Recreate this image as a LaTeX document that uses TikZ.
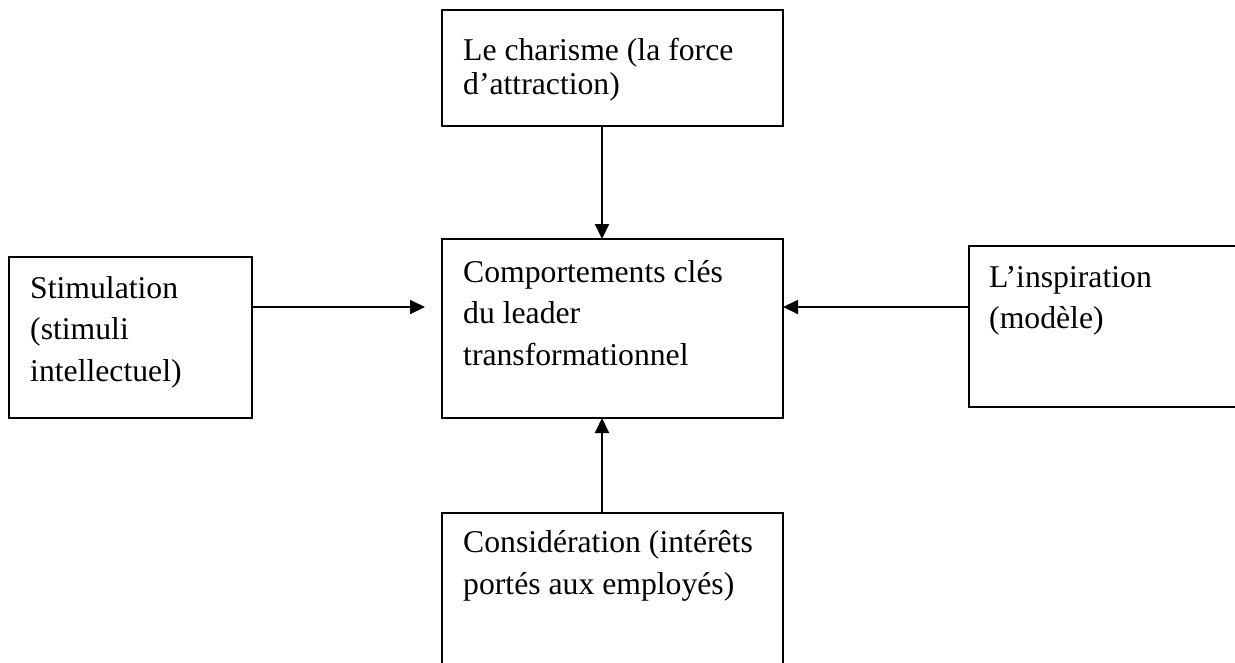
\documentclass[tikz,border=0pt]{standalone}
\usepackage{fontspec}
\setmainfont{Liberation Serif}
\usetikzlibrary{arrows.meta}
\begin{document}
\begin{tikzpicture}[x={(1pt,0)},y={(0,-1pt)},
  box/.style={draw=black,line width=2pt,rectangle,inner sep=0pt,outer sep=0pt,anchor=north west},
  txt/.style={inner sep=0pt,anchor=base west},
  arr/.style={line width=2pt,-{Triangle[length=15pt,width=14pt]}}]
\clip (0,0) rectangle (1235,662);
\fill[white] (0,0) rectangle (1235,662);
% boxes
\node[box,minimum width=341pt,minimum height=116pt] (top) at (442,10) {};
\node[box,minimum width=341pt,minimum height=179pt] (center) at (442,239) {};
\node[box,minimum width=243pt,minimum height=161pt] (left) at (9,257) {};
\node[box,minimum width=300pt,minimum height=161pt] (right) at (969,246) {};
\node[box,minimum width=341pt,minimum height=190pt] (bottom) at (442,513) {};
% texts
\node[txt,font=\fontsize{31.7}{34}\selectfont] (toptext) at (463,60)
  {\vtop{\hbox{Le charisme (la force}\hbox{d’attraction)}}};
\node[txt,font=\fontsize{31.7}{41.7}\selectfont] (centertext) at (463,282)
  {\vtop{\hbox{Comportements clés}\hbox{du leader}\hbox{transformationnel}}};
\node[txt,font=\fontsize{31.7}{41.7}\selectfont] (lefttext) at (30,298)
  {\vtop{\hbox{Stimulation}\hbox{(stimuli}\hbox{intellectuel)}}};
\node[txt,font=\fontsize{31.7}{41.7}\selectfont] (righttext) at (989,287)
  {\vtop{\hbox{L’inspiration}\hbox{(modèle)}}};
\node[txt,font=\fontsize{31.7}{42.5}\selectfont] (bottomtext) at (463,552)
  {\vtop{\hbox{Considération (intérêts}\hbox{portés aux employés)}}};
% connectors
\coordinate (ax) at (602,0);
\coordinate (ay) at (0,307);
\draw[arr] (top.south -| ax) -- (center.north -| ax);
\draw[arr] (bottom.north -| ax) -- (center.south -| ax);
\draw[arr] (left.east |- ay) -- ([xshift=-17pt]center.west |- ay);
\draw[arr] (right.west |- ay) -- (center.east |- ay);
\end{tikzpicture}
\end{document}
